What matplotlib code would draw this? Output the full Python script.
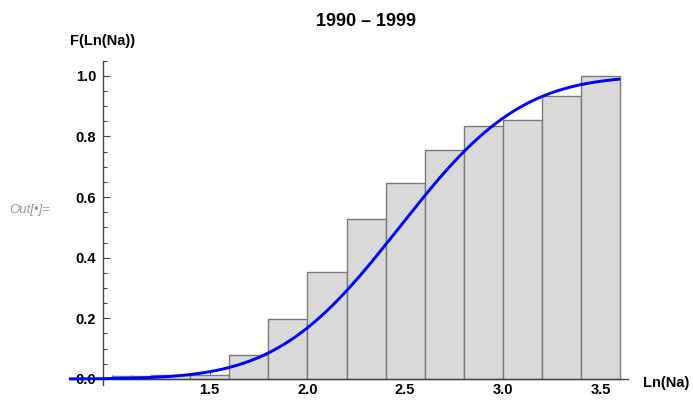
import math
import numpy as np
import matplotlib
matplotlib.use("Agg")
import matplotlib.pyplot as plt
from matplotlib.ticker import MultipleLocator, FixedLocator

plt.rcParams['font.family'] = ['Liberation Sans', 'DejaVu Sans']

# cumulative histogram of Ln(Na), 1990-1999
bin_edges = [1.0, 1.2, 1.4, 1.6, 1.8, 2.0, 2.2, 2.4, 2.6, 2.8, 3.0, 3.2, 3.4, 3.6]
cum_freq = [0.009, 0.014, 0.014, 0.079, 0.197, 0.354, 0.528, 0.645,
            0.756, 0.836, 0.854, 0.934, 1.0]

# fitted normal distribution
mu = 2.47
sigma = 0.49
curve_start, curve_stop = 0.78, 3.6

x_ticks = [1.5, 2.0, 2.5, 3.0, 3.5]
y_ticks = [0.0, 0.2, 0.4, 0.6, 0.8, 1.0]

W, H = 693, 400
fig = plt.figure(figsize=(W / 100, H / 100), dpi=100)
ax = fig.add_axes([69 / W, 15 / H, 559 / W, 324.3 / H])

lefts = np.array(bin_edges[:-1])
widths = np.diff(bin_edges)
ax.bar(lefts, cum_freq, width=widths, align='edge', color='#d9d9d9',
       edgecolor='#7a7a7a', linewidth=1.0, zorder=2)

xs = np.linspace(curve_start, curve_stop, 400)
cdf = 0.5 * (1 + np.vectorize(math.erf)((xs - mu) / (sigma * math.sqrt(2))))
ax.plot(xs, cdf, color='#0000ff', lw=2.1, zorder=4, solid_capstyle='butt')

ax.set_xlim(0.78, 3.64)
ax.set_ylim(-0.02, 1.05)

for side in ('top', 'right'):
    ax.spines[side].set_visible(False)
ax.spines['left'].set_position(('data', 0.955))
ax.spines['bottom'].set_position(('data', 0.0))
for side in ('left', 'bottom'):
    ax.spines[side].set_color('#444444')
    ax.spines[side].set_linewidth(1.0)
    ax.spines[side].set_zorder(3)

ax.xaxis.set_major_locator(FixedLocator(x_ticks))
ax.xaxis.set_minor_locator(FixedLocator(np.round(np.arange(1.0, 3.61, 0.1), 2)))
ax.yaxis.set_major_locator(FixedLocator(y_ticks))
ax.yaxis.set_minor_locator(MultipleLocator(0.05))
ax.set_xticklabels([f"{t:.1f}" for t in x_ticks])
ax.set_yticklabels([f"{t:.1f}" for t in y_ticks])

ax.tick_params(which='both', direction='in', color='#444444', width=0.8)
ax.tick_params(which='major', length=5, labelsize=10.5)
ax.tick_params(which='minor', length=3)
ax.tick_params(axis='x', pad=3)
ax.tick_params(axis='y', pad=5)
for lbl in ax.get_xticklabels() + ax.get_yticklabels():
    lbl.set_fontweight('bold')

fig.text(366 / W, 1 - 21 / H, "1990 – 1999", ha='center', va='center',
         fontsize=13, fontweight='bold')
fig.text(103 / W, 1 - 41 / H, "F(Ln(Na))", ha='center', va='center',
         fontsize=10.5, fontweight='bold')
fig.text(643 / W, 1 - 383 / H, "Ln(Na)", ha='left', va='center',
         fontsize=10.5, fontweight='bold')
fig.text(9 / W, 1 - 210 / H, "Out[•]=", ha='left', va='center',
         fontsize=9.5, style='italic', color='#999999')

fig.savefig("out.png", dpi=100)
